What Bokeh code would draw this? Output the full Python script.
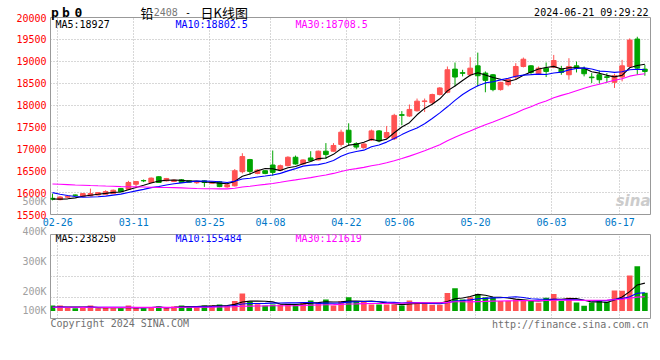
import pandas as pd
from bokeh.plotting import figure
from bokeh.models import ColumnDataSource, Range1d, FixedTicker, Label, GridBox
from bokeh.core.properties import value
from bokeh.embed import file_html
from bokeh.resources import INLINE

# ---------------- data ----------------
dates = ["02-26", "02-27", "02-28", "02-29", "03-01",
         "03-04", "03-05", "03-06", "03-07", "03-08",
         "03-11", "03-12", "03-13", "03-14", "03-15",
         "03-18", "03-19", "03-20", "03-21", "03-22",
         "03-25", "03-26", "03-27", "03-28", "03-29",
         "04-01", "04-02", "04-03",
         "04-08", "04-09", "04-10", "04-11", "04-12",
         "04-15", "04-16", "04-17", "04-18", "04-19",
         "04-22", "04-23", "04-24", "04-25", "04-26",
         "04-29", "04-30",
         "05-06", "05-07", "05-08", "05-09", "05-10",
         "05-13", "05-14", "05-15", "05-16", "05-17",
         "05-20", "05-21", "05-22", "05-23", "05-24",
         "05-27", "05-28", "05-29", "05-30", "05-31",
         "06-03", "06-04", "06-05", "06-06", "06-07",
         "06-11", "06-12", "06-13", "06-14",
         "06-17", "06-18", "06-19", "06-20", "06-21"]

open_ = [15870, 15840, 15895, 15945, 15910, 15925, 15946, 15962, 15977, 16092,
         16077, 16192, 16275, 16231, 16362, 16269, 16254, 16292, 16269, 16225,
         16269, 16215, 16246, 16131, 16154, 16477, 16754, 16438, 16500, 16631,
         16515, 16615, 16808, 16654, 16792, 16746, 16946, 16946, 17100, 17425,
         17120, 17030, 17200, 17410, 17259, 17230, 17780, 17749, 17870, 18080,
         18051, 18240, 18292, 18821, 18740, 18692, 18896, 18730, 18692, 18353,
         18466, 18640, 18881, 18896, 18715, 18843, 18866, 18821, 18692, 18896,
         18821, 18640, 18692, 18645, 18519, 18640, 18881, 19508, 18821]
high = [15977, 15920, 15935, 15955, 15985, 16092, 16010, 16054, 16070, 16100,
        16269, 16260, 16300, 16345, 16375, 16335, 16300, 16310, 16285, 16250,
        16280, 16250, 16260, 16185, 16538, 16900, 16770, 16530, 16510, 16962,
        16640, 16830, 16846, 16760, 16946, 16960, 17131, 17131, 17438, 17583,
        17150, 17140, 17440, 17430, 17523, 17800, 17862, 18013, 18149, 18149,
        18260, 18410, 18881, 18972, 18806, 19092, 19198, 18768, 18710, 18530,
        18610, 18957, 19085, 18910, 18881, 18972, 19145, 18896, 19070, 18994,
        18881, 18730, 18791, 18730, 18715, 19032, 19523, 19560, 18919]
low = [15823, 15825, 15880, 15925, 15905, 15915, 15940, 15955, 15970, 16015,
       16060, 16100, 16240, 16220, 16220, 16255, 16240, 16225, 16230, 16200,
       16131, 16200, 16125, 16110, 16140, 16438, 16408, 16420, 16420, 16385,
       16500, 16600, 16640, 16640, 16715, 16735, 16769, 16935, 17050, 17080,
       16990, 17000, 17180, 17150, 17230, 17200, 17538, 17730, 17850, 17840,
       18013, 18220, 18270, 18428, 18655, 18655, 18428, 18292, 18315, 18330,
       18428, 18579, 18860, 18692, 18700, 18640, 18843, 18692, 18579, 18745,
       18655, 18504, 18489, 18519, 18391, 18541, 18860, 18692, 18670]
close = [15850, 15900, 15915, 15938, 15977, 15977, 16000, 16023, 16054, 16023,
         16231, 16254, 16269, 16331, 16231, 16323, 16285, 16231, 16238, 16235,
         16231, 16238, 16138, 16177, 16500, 16823, 16485, 16515, 16438, 16462,
         16615, 16808, 16654, 16746, 16731, 16946, 16869, 17077, 17380, 17150,
         17040, 17110, 17410, 17180, 17372, 17764, 17765, 17900, 18089, 18095,
         18240, 18391, 18806, 18640, 18725, 18843, 18670, 18564, 18353, 18519,
         18594, 18881, 19047, 18745, 18843, 18768, 19017, 18745, 18881, 18843,
         18715, 18625, 18579, 18632, 18670, 18896, 19485, 18843, 18768]
volume = [46800, 47500, 25100, 23600, 24800, 46200, 23900, 25400, 24300, 23800,
          47900, 24600, 23500, 30200, 38400, 24900, 37600, 46900, 38800, 37900,
          47200, 46400, 56300, 47800, 85400, 150600, 80200, 56700, 46500, 55800,
          56100, 61300, 55400, 75200, 89600, 74800, 97500, 47300, 84100, 117800,
          83600, 84500, 56200, 55700, 56600, 55900, 46700, 89800, 74600, 71500,
          53400, 53100, 153400, 194400, 99100, 118200, 144900, 118500, 117900, 85800,
          85600, 99300, 85800, 86000, 71500, 112500, 144900, 85800, 112300, 72000,
          45000, 73000, 95000, 78590, 176200, 173800, 302600, 383400, 155250]

# the 29 sessions before 02-26 are not drawn; they are estimated from where
# the reference's moving-average lines start at the left edge
prior_close = [16120, 16150, 16180, 16160, 16200, 16190, 16185, 16190,
               16250, 16300, 16350, 16400, 16450, 16420, 16380, 16350, 16400, 16440, 16460, 16370,
               16260, 16210, 16170, 16135, 15950, 15920, 15880, 15830, 15795]
prior_volume = [31200, 28400, 35600, 29800, 26500, 33100, 38200, 30400, 27300, 32800,
                36100, 29200, 31500, 34400, 27900, 30600, 35800, 32300, 26800, 30100,
                34700, 32600, 28900, 31300, 27600, 33800, 26200, 29700, 23400]

tick_dates = ["02-26", "03-11", "03-25", "04-08", "04-22", "05-06", "05-20", "06-03", "06-17"]
price_ticks = [15500, 16000, 16500, 17000, 17500, 18000, 18500, 19000, 19500, 20000]
volume_tick_labels = ["500K", "400K", "300K", "200K", "100K"]
price_legend = ["MA5:18927", "MA10:18802.5", "MA30:18708.5"]
volume_legend = ["MA5:238250", "MA10:155484", "MA30:121619"]
code_letters = ["p", "b", "0"]
title_parts = ["铅", "2408", "-", "日K线图"]
timestamp = "2024-06-21 09:29:22"
copyright_text = "Copyright 2024 SINA.COM"
site_text = "http://finance.sina.com.cn"

# ---------------- styling ----------------
MONO = "DejaVu Sans Mono"
CJK = "Noto Sans CJK SC"
RED = "#ff5252"
GREEN = "#00a400"
GRID = "#b0b0b0"
BORDER = "#999999"
LABEL_GRAY = "#a0a0a0"
FOOT_GRAY = "#707070"
MA_COLORS = ["#000000", "#0000ff", "#ff00ff"]
W, H = 652, 352

n = len(dates)
xs = list(range(n))
cols = [RED if c >= o else GREEN for o, c in zip(open_, close)]
data = dict(x=xs, o=open_, h=high, l=low, c=close,
            top=[max(o, c) for o, c in zip(open_, close)],
            bot=[min(o, c) for o, c in zip(open_, close)],
            col=cols, vol=volume)
cs = pd.Series(prior_close + close, dtype=float)
vs = pd.Series(prior_volume + volume, dtype=float)
for w in (5, 10, 30):
    data[f"ma{w}"] = cs.rolling(w).mean().iloc[len(prior_close):].tolist()
    data[f"vma{w}"] = vs.rolling(w).mean().iloc[len(prior_volume):].tolist()
src = ColumnDataSource(data)

tick_pos = [dates.index(d) + 0.7 for d in tick_dates]
x_range = Range1d(-0.26, n - 0.26)


def no_align(fig):
    if "frame_align" in fig.properties():
        fig.frame_align = False


def put(fig, x, y, text, color):
    fig.add_layout(Label(x=x, y=y, x_units="screen", y_units="screen", text=text,
                         text_color=color, text_font=MONO, text_font_size="10px",
                         text_baseline="middle"))


def style_grid(fig):
    for g in list(fig.xgrid) + list(fig.ygrid):
        g.grid_line_color = GRID
        g.grid_line_dash = "1 2"


# ---------------- price panel ----------------
p = figure(frame_width=600, frame_height=197, x_range=x_range,
           y_range=Range1d(price_ticks[0], price_ticks[-1]),
           min_border_left=50, min_border_right=2, min_border_top=17, min_border_bottom=19,
           output_backend="svg", toolbar_location=None,
           background_fill_color="white", border_fill_color="white")
no_align(p)
p.outline_line_color = BORDER
p.yaxis.ticker = FixedTicker(ticks=price_ticks)
p.yaxis.major_label_text_color = "#ff0000"
p.xaxis.ticker = FixedTicker(ticks=tick_pos)
p.xaxis.major_label_overrides = {t_: d for t_, d in zip(tick_pos, tick_dates)}
p.xaxis.major_label_text_color = "#0078c8"
for ax in (p.xaxis[0], p.yaxis[0]):
    ax.axis_line_color = None
    ax.major_tick_line_color = None
    ax.minor_tick_line_color = None
    ax.major_tick_out = 0
    ax.major_tick_in = 0
    ax.major_label_text_font = MONO
    ax.major_label_text_font_size = "10px"
p.yaxis.major_label_standoff = 4
p.xaxis.major_label_standoff = 3
p.xgrid.ticker = FixedTicker(ticks=tick_pos)
p.ygrid.ticker = FixedTicker(ticks=price_ticks)
style_grid(p)

p.segment(x0="x", y0="l", x1="x", y1="h", line_color="col", line_width=1, source=src)
p.vbar(x="x", width=0.62, top="top", bottom="bot", fill_color="col", line_color="col",
       line_width=1, source=src)
for w, c in zip((5, 10, 30), MA_COLORS):
    p.line("x", f"ma{w}", line_color=c, line_width=1.1, source=src)

for txt_, lx, c in zip(price_legend, (5, 125, 245), MA_COLORS):
    put(p, lx, 190, txt_, c)
p.add_layout(Label(x=600, y=14, x_units="screen", y_units="screen", text="sina",
                   text_color="#cccccc", text_font="DejaVu Sans", text_font_size="15px",
                   text_font_style="bold italic", text_align="right", text_baseline="middle"))

# ---------------- volume panel ----------------
px_per_unit = 0.117 / 1000.0
vmin = -7.5 / px_per_unit
vmax = (84 - 7.5) / px_per_unit
v = figure(frame_width=600, frame_height=84, x_range=x_range, y_range=Range1d(vmin, vmax),
           min_border_left=50, min_border_right=2, min_border_top=1, min_border_bottom=34,
           output_backend="svg", toolbar_location=None,
           background_fill_color="white", border_fill_color="white")
no_align(v)
v.outline_line_color = BORDER
v.xaxis.visible = False
v.yaxis.visible = False
v.xgrid.ticker = FixedTicker(ticks=tick_pos)
v.ygrid.ticker = FixedTicker(ticks=[vmin + (vmax - vmin) * k / 4 for k in (1, 2, 3)])
style_grid(v)

v.vbar(x="x", width=0.74, top="vol", bottom=0, fill_color="col", line_color=None, source=src)
for w, c in zip((5, 10, 30), MA_COLORS):
    v.line("x", f"vma{w}", line_color=c, line_width=1.1, source=src)
for txt_, lx, c in zip(volume_legend, (5, 125, 245), MA_COLORS):
    put(v, lx, 79.7, txt_, c)

# ---------------- transparent text layer over the margins ----------------
t = figure(frame_width=W, frame_height=H, x_range=Range1d(0, W), y_range=Range1d(H, 0),
           min_border=0, min_border_left=0, min_border_right=0, min_border_top=0,
           min_border_bottom=0, x_axis_location=None, y_axis_location=None,
           output_backend="svg", toolbar_location=None,
           background_fill_alpha=0, border_fill_alpha=0)
no_align(t)
t.outline_line_color = None
t.xgrid.visible = False
t.ygrid.visible = False


def txt(xs_, ys_, texts, color, size=10, font=MONO, align="left", style="normal"):
    t.text(x=xs_, y=ys_, text=texts, text_color=color, text_font=value(font),
           text_font_size=f"{size}px", text_align=align, text_baseline="middle",
           text_font_style=style)


txt([54.5, 65.5, 77.8], [11.5] * 3, code_letters, "#000000", size=13, align="center", style="bold")
txt([140], [11.5], [title_parts[0]], "#000000", size=13, font=CJK)
txt([153.3], [11.7], [title_parts[1]], "#777777")
txt([187.5], [11.7], [title_parts[2]], "#000000", align="center")
txt([200], [11.5], [title_parts[3]], "#000000", size=13, font=CJK)
txt([648], [11.7], [timestamp], "#000000", align="right")
txt([46, 46, 46, 46, 46], [200.7, 230.7, 261, 291, 310.3], volume_tick_labels, LABEL_GRAY,
    align="right")
txt([50], [323.3], [copyright_text], FOOT_GRAY)
txt([648], [324], [site_text], FOOT_GRAY, align="right")

layout = GridBox(children=[(p, 0, 0), (v, 1, 0), (t, 0, 0, 2, 1)], spacing=0)
open("out.html", "w").write(file_html(layout, INLINE))
